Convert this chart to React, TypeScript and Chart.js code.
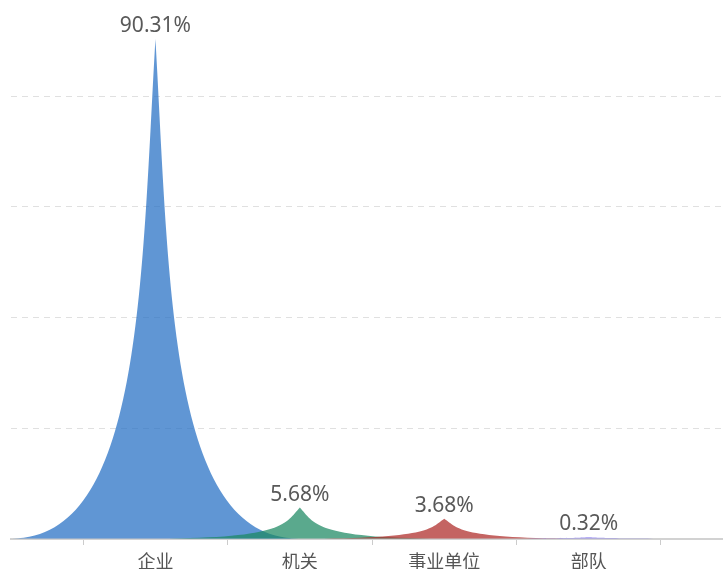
import React, { useEffect, useRef } from 'react';
import { Chart, registerables } from 'chart.js';

Chart.register(...registerables);

const categories: string[] = ['企业', '机关', '事业单位', '部队'];
const values: number[] = [90.31, 5.68, 3.68, 0.32];
const yTicks: number[] = [0, 20, 40, 60, 80];
const colors: string[] = [
  'rgba(35,110,195,0.72)',
  'rgba(26,136,97,0.72)',
  'rgba(173,40,37,0.72)',
  'rgba(123,109,234,0.72)',
];

const spikePlugin = {
  id: 'spikeShapes',
  beforeDatasetDraw(chart: any, args: any) {
    const { ctx, chartArea } = chart;
    const meta = args.meta;
    const ds = chart.data.datasets[args.index];
    ctx.save();
    ctx.beginPath();
    ctx.rect(chartArea.left, chartArea.top - 40, chartArea.right - chartArea.left, chartArea.bottom - chartArea.top + 40);
    ctx.clip();
    meta.data.forEach((el: any, i: number) => {
      const { x, y, base, width } = el.getProps(['x', 'y', 'base', 'width'], true);
      const half = width / 2;
      const c = half * 0.1;
      const mid = y + (base - y) / 2;
      ctx.beginPath();
      ctx.moveTo(x - half, base);
      ctx.lineTo(x + half, base);
      ctx.bezierCurveTo(x + c, base, x + c, mid, x, y);
      ctx.bezierCurveTo(x - c, mid, x - c, base, x - half, base);
      ctx.closePath();
      ctx.fillStyle = Array.isArray(ds.backgroundColor) ? ds.backgroundColor[i] : ds.backgroundColor;
      ctx.fill();
    });
    ctx.restore();
    return false;
  },
  afterDatasetsDraw(chart: any) {
    const { ctx } = chart;
    const meta = chart.getDatasetMeta(0);
    ctx.save();
    ctx.font = '21px "Noto Sans", "Noto Sans CJK SC", sans-serif';
    ctx.fillStyle = '#595959';
    ctx.textAlign = 'center';
    ctx.textBaseline = 'alphabetic';
    meta.data.forEach((el: any, i: number) => {
      const { x, y } = el.getProps(['x', 'y'], true);
      ctx.fillText(values[i].toFixed(2) + '%', x, y - 7);
    });
    ctx.restore();
  },
};

export default function App() {
  const ref = useRef<HTMLCanvasElement | null>(null);
  useEffect(() => {
    if (!ref.current) return;
    const chart = new Chart(ref.current, {
      type: 'bar',
      data: {
        datasets: [
          {
            data: values.map((v, i) => ({ x: i, y: v })),
            backgroundColor: colors,
            categoryPercentage: 2,
            barPercentage: 0.99,
          } as any,
        ],
      },
      options: {
        animation: false,
        responsive: false,
        maintainAspectRatio: false,
        events: [],
        layout: { padding: { left: 11, right: 0, top: 2, bottom: 0 } },
        plugins: { legend: { display: false }, tooltip: { enabled: false } },
        scales: {
          x: {
            type: 'linear',
            offset: false,
            min: -1,
            max: 3.93,
            afterBuildTicks: (scale: any) => {
              scale.ticks = categories.map((_, i) => ({ value: i }));
            },
            afterFit: (scale: any) => {
              scale.height = 30;
            },
            ticks: {
              autoSkip: false,
              maxRotation: 0,
              padding: 5,
              color: '#555555',
              font: { size: 18, family: '"Noto Sans CJK SC", "Noto Sans", sans-serif' },
              callback: (value: any) => categories[value as number] ?? '',
            },
            grid: {
              offset: true,
              drawOnChartArea: false,
              drawTicks: true,
              tickLength: 6,
              color: '#cccccc',
              lineWidth: 1,
            },
            border: { display: true, color: '#d2d2d2', width: 2 },
          },
          y: {
            type: 'linear',
            min: 0,
            max: 97,
            afterBuildTicks: (scale: any) => {
              scale.ticks = yTicks.map((v) => ({ value: v }));
            },
            afterFit: (scale: any) => {
              scale.width = 0;
            },
            ticks: { display: false },
            grid: { color: '#e0e0e0', lineWidth: 1, drawTicks: false },
            border: { display: false, dash: [6, 5] },
          },
        },
      } as any,
      plugins: [spikePlugin],
    });
    return () => chart.destroy();
  }, []);
  return (
    <div style={{ position: 'absolute', left: 0, top: 0, width: 723, height: 569, overflow: 'hidden', background: '#fff' }}>
      <canvas ref={ref} width={723} height={569} />
    </div>
  );
}
